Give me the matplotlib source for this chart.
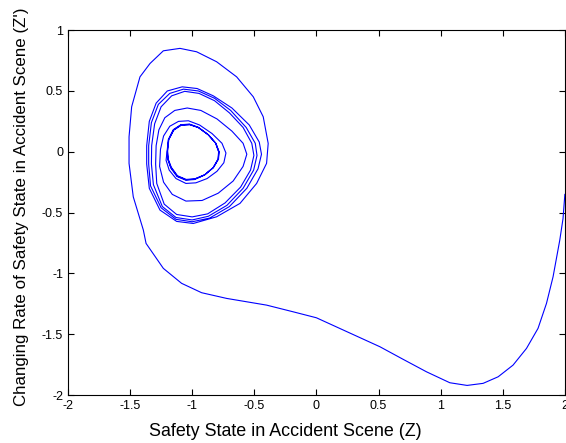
import matplotlib
matplotlib.use('Agg')
import matplotlib.pyplot as plt
import numpy as np

plt.rcParams['font.family'] = ['Liberation Sans', 'DejaVu Sans']

# trajectory, in time order
# approach from the right edge down to the minimum and back left
tail_z = [2.0, 1.985, 1.959, 1.905, 1.852, 1.784, 1.691, 1.583, 1.463, 1.342, 1.213,
          1.074, 0.886, 0.699, 0.511, 0.216, 0.0, -0.187, -0.401, -0.722, -0.924,
          -1.085, -1.232, -1.371]
tail_dz = [-0.35, -0.55, -0.726, -1.027, -1.246, -1.451, -1.616, -1.753, -1.849, -1.903, -1.920,
           -1.898, -1.808, -1.706, -1.602, -1.465, -1.364, -1.315, -1.260, -1.205, -1.158,
           -1.081, -0.958, -0.753]

# first big loop
big_z = [-1.393, -1.474, -1.508, -1.508, -1.487, -1.420, -1.339, -1.232, -1.098, -0.964,
         -0.803, -0.642, -0.508, -0.428, -0.388, -0.401, -0.481, -0.615, -0.803, -0.991,
         -1.125, -1.259, -1.345]
big_dz = [-0.643, -0.370, -0.095, 0.123, 0.370, 0.616, 0.726, 0.830, 0.850, 0.822,
          0.740, 0.616, 0.452, 0.288, 0.069, -0.095, -0.260, -0.424, -0.534, -0.589,
          -0.572, -0.479, -0.300]

# three loops of amplitude ~0.5
mid_z = [-1.366, -1.366, -1.345, -1.290, -1.200, -1.080, -0.960, -0.830, -0.680, -0.540,
         -0.460, -0.442, -0.470, -0.560, -0.700, -0.860, -1.000, -1.130, -1.250, -1.335,
         -1.350, -1.350, -1.328, -1.272, -1.180, -1.070, -0.950, -0.820, -0.690, -0.565,
         -0.492, -0.478, -0.505, -0.590, -0.720, -0.870, -1.000, -1.130, -1.240, -1.312,
         -1.328, -1.326, -1.302, -1.250, -1.165, -1.060, -0.945, -0.820, -0.700, -0.590,
         -0.520, -0.503, -0.530, -0.610, -0.735, -0.875, -1.000, -1.125, -1.225, -1.285]
mid_dz = [-0.10, 0.05, 0.25, 0.40, 0.50, 0.534, 0.52, 0.46, 0.36, 0.22,
          0.08, -0.02, -0.14, -0.30, -0.45, -0.545, -0.575, -0.555, -0.46, -0.28,
          -0.10, 0.05, 0.24, 0.39, 0.48, 0.515, 0.50, 0.44, 0.34, 0.20,
          0.07, -0.03, -0.15, -0.30, -0.44, -0.53, -0.560, -0.540, -0.45, -0.27,
          -0.10, 0.05, 0.23, 0.37, 0.46, 0.497, 0.48, 0.42, 0.32, 0.20,
          0.07, -0.03, -0.15, -0.29, -0.42, -0.51, -0.535, -0.515, -0.43, -0.26]

# shrinking loops towards the cycle
inner_z = [-1.294, -1.290, -1.268, -1.220, -1.140, -1.040, -0.930, -0.800, -0.680, -0.590,
           -0.560, -0.590, -0.670, -0.790, -0.920, -1.050, -1.160, -1.230, -1.262,
           -1.255, -1.230, -1.180, -1.110, -1.030, -0.940, -0.840, -0.760, -0.728, -0.745,
           -0.800, -0.880, -0.970, -1.050, -1.130, -1.185, -1.210]
inner_dz = [-0.10, 0.05, 0.18, 0.28, 0.34, 0.360, 0.34, 0.27, 0.17, 0.07,
            -0.02, -0.12, -0.24, -0.34, -0.40, -0.405, -0.35, -0.25, -0.12,
            0.02, 0.13, 0.21, 0.25, 0.255, 0.22, 0.15, 0.07, -0.01, -0.09,
            -0.16, -0.22, -0.255, -0.26, -0.22, -0.15, -0.07]

# final cycle, a few laps
ring_z = [-1.202, -1.192, -1.152, -1.092, -1.022, -0.952, -0.872, -0.812, -0.787, -0.792,
          -0.832, -0.902, -0.982, -1.052, -1.122, -1.172, -1.197,
          -1.200, -1.190, -1.150, -1.090, -1.020, -0.950, -0.870, -0.810, -0.785, -0.790,
          -0.830, -0.900, -0.980, -1.050, -1.120, -1.170, -1.195,
          -1.198, -1.188, -1.148, -1.088, -1.018, -0.948, -0.868, -0.808, -0.783, -0.788,
          -0.828, -0.898, -0.978, -1.048, -1.118, -1.168, -1.193, -1.198]
ring_dz = [0.00, 0.10, 0.182, 0.222, 0.228, 0.202, 0.142, 0.072, 0.00, -0.06,
           -0.132, -0.192, -0.228, -0.233, -0.203, -0.133, -0.06,
           0.00, 0.10, 0.180, 0.220, 0.225, 0.200, 0.140, 0.070, 0.00, -0.06,
           -0.130, -0.190, -0.225, -0.230, -0.200, -0.130, -0.06,
           0.00, 0.10, 0.178, 0.218, 0.222, 0.198, 0.138, 0.068, 0.00, -0.06,
           -0.128, -0.188, -0.222, -0.227, -0.197, -0.127, -0.06, 0.00]

z = np.concatenate([tail_z, big_z, mid_z, inner_z, ring_z])
dz = np.concatenate([tail_dz, big_dz, mid_dz, inner_dz, ring_dz])

fig = plt.figure(figsize=(5.66, 4.43), dpi=100)
ax = fig.add_axes([0.120, 0.108, 0.878, 0.824])
ax.plot(z, dz, color='#0000ff', linewidth=0.8)

ax.set_xlim(-2, 2)
ax.set_ylim(-2, 1)
ax.set_xticks(np.arange(-2, 2.01, 0.5))
ax.set_yticks(np.arange(-2, 1.01, 0.5))
ax.set_xticklabels(['-2', '-1.5', '-1', '-0.5', '0', '0.5', '1', '1.5', '2'])
ax.set_yticklabels(['-2', '-1.5', '-1', '-0.5', '0', '0.5', '1'])
ax.tick_params(direction='in', top=True, right=True, length=4, width=0.8, labelsize=9)
for s in ax.spines.values():
    s.set_linewidth(0.8)

ax.set_xlabel('Safety State in Accident Scene (Z)', fontsize=12.9)
ax.set_ylabel("Changing Rate of Safety State in Accident Scene (Z')", fontsize=12.2)
# label spots as in the source figure
ax.xaxis.set_label_coords(0.437, -0.075)
ax.yaxis.set_label_coords(-0.078, 0.516)

fig.savefig('out.png', dpi=100, facecolor='white')
